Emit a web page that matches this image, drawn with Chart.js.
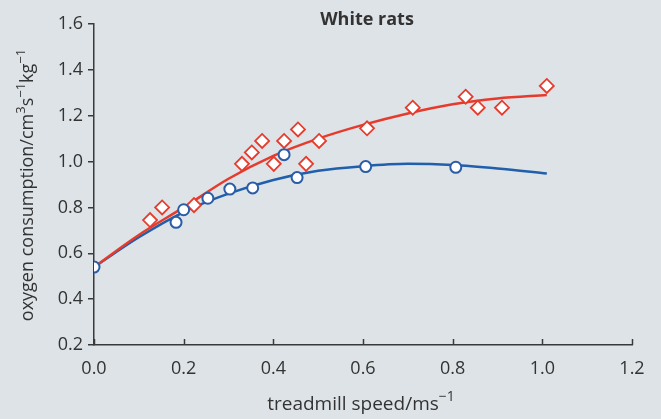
<!DOCTYPE html>
<html>
<head>
<meta charset="utf-8">
<script src="https://cdn.jsdelivr.net/npm/chart.js@4/dist/chart.umd.min.js"></script>
<style>
  html, body { margin: 0; padding: 0; background: #dde3e7; }
  canvas { display: block; }
</style>
</head>
<body>
<canvas id="chart" width="661" height="419"></canvas>
<script>
// measured points (white rats)
const diamondSpeed = [0.125, 0.152, 0.223, 0.33, 0.352, 0.375, 0.401, 0.424, 0.455, 0.473, 0.502, 0.609, 0.711, 0.829, 0.856, 0.91, 1.01]
const diamondO2 = [0.745, 0.8, 0.81, 0.99, 1.04, 1.09, 0.99, 1.09, 1.14, 0.99, 1.09, 1.145, 1.235, 1.283, 1.235, 1.235, 1.33]
const circleSpeed = [0, 0.183, 0.2, 0.254, 0.303, 0.354, 0.424, 0.453, 0.606, 0.807]
const circleO2 = [0.54, 0.735, 0.79, 0.84, 0.88, 0.885, 1.03, 0.93, 0.978, 0.975]

// fitted curves
const fitSpeed = [0, 0.1, 0.2, 0.3, 0.4, 0.5, 0.6, 0.7, 0.8, 0.9, 1.01]
const fitRed = [0.54, 0.68, 0.8, 0.925, 1.025, 1.1, 1.16, 1.21, 1.25, 1.275, 1.29]
const fitBlue = [0.54, 0.67, 0.78, 0.86, 0.92, 0.96, 0.98, 0.99, 0.985, 0.97, 0.948]

const xMin = 0, xMax = 1.2, xStep = 0.2
const yMin = 0.2, yMax = 1.6, yStep = 0.2

// axis titles, split so the powers can be raised
const xTitle = [['treadmill speed/ms', false], ['\u22121', true]]
const yTitle = [['oxygen consumption/cm', false], ['3', true], ['s', false], ['\u22121', true], ['kg', false], ['\u22121', true]]

const axisColor = '#3a3a3a'
const textColor = '#333333'
const red = '#e63b2c'
const blue = '#1f5fab'

const pairs = (xs, ys) => xs.map((x, i) => ({ x: x, y: ys[i] }))

function drawRich(ctx, parts, cx, baseline, size) {
  let base = size + 'px "Open Sans"'
  let sup = Math.round(size * 0.72) + 'px "Open Sans"'
  let widths = parts.map(([t, s]) => {
    ctx.font = s ? sup : base
    return ctx.measureText(t).width
  })
  let total = widths.reduce((a, b) => a + b, 0)
  let x = cx - total / 2
  parts.forEach(([t, s], i) => {
    ctx.font = s ? sup : base
    ctx.fillText(t, x, s ? baseline - size * 0.45 : baseline)
    x += widths[i]
  })
}

const labels = {
  id: 'labels',
  afterDraw(chart) {
    let ctx = chart.ctx
    ctx.save()
    ctx.fillStyle = textColor
    ctx.textBaseline = 'middle'
    ctx.textAlign = 'center'
    ctx.font = 'bold 18px "Open Sans"'
    ctx.fillText('White rats', 367, 20)

    ctx.textAlign = 'left'
    ctx.textBaseline = 'alphabetic'
    drawRich(ctx, xTitle, 361, 410, 19)

    ctx.translate(33, 185)
    ctx.rotate(-Math.PI / 2)
    drawRich(ctx, yTitle, 0, 0, 18)
    ctx.restore()
  }
}

// x ticks point up into the plot
const innerTicks = {
  id: 'innerTicks',
  afterDraw(chart) {
    let { ctx, scales } = chart
    let x = scales.x
    ctx.save()
    ctx.strokeStyle = axisColor
    ctx.lineWidth = 1.5
    x.ticks.forEach(t => {
      let px = Math.round(x.getPixelForValue(t.value)) + 0.5
      ctx.beginPath()
      ctx.moveTo(px, x.top)
      ctx.lineTo(px, x.top - 6)
      ctx.stroke()
    })
    ctx.restore()
  }
}

let chart = new Chart(document.getElementById('chart'), {
  type: 'scatter',
  data: {
    datasets: [
      {
        type: 'line',
        data: pairs(fitSpeed, fitRed),
        borderColor: red,
        borderWidth: 2.5,
        pointRadius: 0,
        cubicInterpolationMode: 'monotone',
        fill: false,
        order: 3
      },
      {
        type: 'line',
        data: pairs(fitSpeed, fitBlue),
        borderColor: blue,
        borderWidth: 2.5,
        pointRadius: 0,
        cubicInterpolationMode: 'monotone',
        fill: false,
        order: 3
      },
      {
        data: pairs(diamondSpeed, diamondO2),
        pointStyle: 'rectRot',
        pointRadius: 7,
        borderColor: red,
        borderWidth: 1.8,
        backgroundColor: '#ffffff',
        order: 2
      },
      {
        data: pairs(circleSpeed, circleO2),
        pointStyle: 'circle',
        pointRadius: 5.5,
        borderColor: '#2b5ca6',
        borderWidth: 2,
        backgroundColor: '#ffffff',
        order: 1
      }
    ]
  },
  options: {
    responsive: false,
    animation: false,
    devicePixelRatio: 1,
    layout: { padding: { top: 24, right: 29, bottom: 0, left: 0 } },
    plugins: {
      legend: { display: false },
      tooltip: { enabled: false }
    },
    scales: {
      x: {
        type: 'linear',
        min: xMin,
        max: xMax,
        afterFit(scale) { scale.height = 74 },
        ticks: {
          stepSize: xStep,
          padding: 13,
          color: textColor,
          font: { family: 'Open Sans', size: 18 },
          callback: v => Number(v).toFixed(1)
        },
        grid: { display: false, drawTicks: false },
        border: { display: true, color: axisColor, width: 1.5 }
      },
      y: {
        type: 'linear',
        min: yMin,
        max: yMax,
        afterFit(scale) { scale.width = 94 },
        ticks: {
          stepSize: yStep,
          padding: 5,
          color: textColor,
          font: { family: 'Open Sans', size: 18 },
          callback: v => Number(v).toFixed(1)
        },
        grid: { drawOnChartArea: false, tickLength: 6, color: axisColor, lineWidth: 1.5 },
        border: { display: true, color: axisColor, width: 1.5 }
      }
    }
  },
  plugins: [labels, innerTicks]
})
</script>
</body>
</html>
